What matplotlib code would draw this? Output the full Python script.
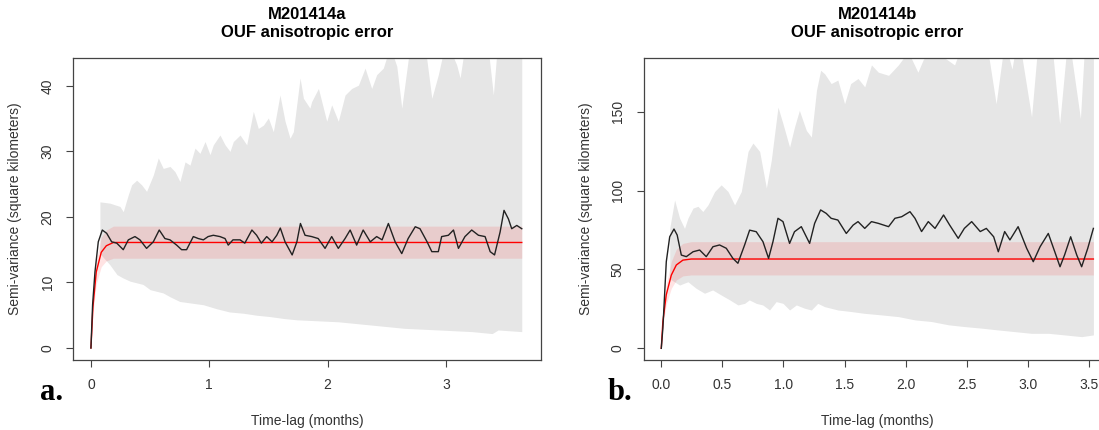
import numpy as np
import matplotlib.pyplot as plt

plt.rcParams["font.family"] = ["Liberation Sans", "DejaVu Sans"]

# ---------------- panel a : M201414a ----------------
a_black_t = [0.0, 0.014, 0.034, 0.062, 0.096, 0.133, 0.175, 0.218, 0.273, 0.316, 0.372, 0.414,
             0.47, 0.527, 0.577, 0.625, 0.668, 0.724, 0.766, 0.808, 0.865, 0.907, 0.95, 0.99,
             1.034, 1.09, 1.133, 1.16, 1.20, 1.26, 1.30, 1.36, 1.40, 1.44, 1.485, 1.53, 1.57,
             1.60, 1.64, 1.70, 1.74, 1.77, 1.809, 1.865, 1.92, 1.978, 2.034, 2.09, 2.147, 2.19,
             2.245, 2.30, 2.36, 2.414, 2.46, 2.513, 2.57, 2.626, 2.68, 2.74, 2.78, 2.84, 2.88,
             2.935, 2.963, 3.02, 3.063, 3.105, 3.16, 3.217, 3.274, 3.33, 3.373, 3.41, 3.457,
             3.49, 3.527, 3.555, 3.598, 3.64]
a_black_v = [0.0, 6.6, 11.6, 16.2, 18.0, 17.5, 16.2, 16.0, 15.0, 16.5, 17.0, 16.5,
             15.2, 16.2, 18.0, 16.7, 16.5, 15.7, 15.0, 15.0, 17.0, 16.7, 16.5, 17.0,
             17.2, 17.0, 16.7, 15.7, 16.5, 16.5, 16.0, 18.0, 17.2, 16.0, 17.0, 16.2, 17.2,
             18.3, 16.2, 14.2, 16.2, 19.0, 17.2, 17.0, 16.7, 15.2, 17.0, 15.2, 16.7, 18.0,
             15.7, 18.0, 16.2, 17.0, 16.5, 19.0, 16.2, 14.4, 16.7, 18.5, 18.2, 16.2, 14.7,
             14.7, 17.0, 17.2, 18.0, 15.2, 17.0, 18.0, 17.2, 17.0, 14.7, 14.2, 17.7,
             21.0, 19.7, 18.2, 18.7, 18.2]

a_model_t = [0.0, 0.017, 0.045, 0.087, 0.13, 0.19, 3.64]
a_model_v = [0.0, 6.3, 11.6, 14.6, 15.6, 16.1, 16.1]
a_model_lo = [0.0, 5.2, 9.8, 12.4, 13.3, 13.7, 13.7]
a_model_hi = [0.0, 7.4, 13.3, 16.9, 18.0, 18.6, 18.6]

a_upper_t = [0.076, 0.16, 0.245, 0.273, 0.316, 0.344, 0.386, 0.428, 0.47, 0.527, 0.569, 0.611,
             0.668, 0.71, 0.752, 0.795, 0.837, 0.879, 0.921, 0.964, 1.006, 1.034, 1.09, 1.133,
             1.175, 1.203, 1.26, 1.316, 1.372, 1.414, 1.457, 1.499, 1.541, 1.597, 1.64, 1.682,
             1.71, 1.767, 1.795, 1.85, 1.865, 1.922, 1.992, 2.034, 2.09, 2.147, 2.203, 2.26,
             2.316, 2.372, 2.414, 2.47, 2.527, 2.584, 2.626, 2.71, 2.795, 2.88, 2.935, 3.0,
             3.09, 3.119, 3.175, 3.33, 3.40, 3.46, 3.64]
a_upper_v = [22.3, 22.1, 21.6, 20.8, 23.4, 24.9, 25.6, 24.9, 23.9, 26.4, 29.0, 27.4,
             27.7, 26.9, 25.4, 28.4, 27.9, 30.5, 29.7, 31.5, 29.5, 31.0, 32.5, 31.0,
             30.0, 31.5, 32.5, 31.0, 36.1, 33.5, 34.0, 35.1, 33.0, 38.6, 34.6, 32.0,
             33.0, 41.2, 38.1, 36.6, 37.6, 39.6, 34.6, 37.1, 34.6, 38.6, 39.6, 40.1,
             42.7, 39.6, 41.7, 42.7, 46.0, 43.0, 36.6, 48.0, 50.0, 38.1, 41.7, 47.0,
             43.2, 41.2, 48.0, 50.0, 38.6, 52.0, 55.0]
a_lower_t = [0.076, 0.086, 0.16, 0.22, 0.27, 0.33, 0.44, 0.5, 0.61, 0.67, 0.75, 0.95, 1.06,
             1.17, 1.29, 1.40, 1.51, 1.63, 1.74, 2.09, 2.37, 2.65, 2.94, 3.22, 3.39, 3.44, 3.64]
a_lower_v = [14.6, 14.2, 12.7, 11.2, 10.7, 10.2, 9.7, 8.9, 8.4, 7.8, 7.1, 6.6, 6.0,
             5.5, 5.3, 5.0, 4.8, 4.5, 4.3, 4.0, 3.5, 3.0, 2.75, 2.5, 2.2, 2.75, 2.5]

# ---------------- panel b : M201414b ----------------
b_black_t = [0.0, 0.013, 0.041, 0.069, 0.104, 0.13, 0.164, 0.205, 0.26, 0.314, 0.368, 0.423,
             0.477, 0.532, 0.586, 0.627, 0.682, 0.723, 0.777, 0.832, 0.878, 0.914, 0.955,
             0.996, 1.05, 1.09, 1.146, 1.214, 1.255, 1.304, 1.35, 1.39, 1.445, 1.514, 1.57,
             1.61, 1.665, 1.72, 1.776, 1.86, 1.912, 1.967, 2.035, 2.076, 2.13, 2.185, 2.24,
             2.31, 2.36, 2.43, 2.48, 2.54, 2.61, 2.66, 2.72, 2.758, 2.81, 2.853, 2.92, 2.99,
             3.044, 3.10, 3.167, 3.22, 3.263, 3.30, 3.35, 3.40, 3.44, 3.49, 3.536]
b_black_v = [0.0, 12.7, 54.9, 70.7, 75.6, 71.8, 59.1, 58.1, 61.2, 62.3, 58.1, 64.4,
             65.5, 63.4, 57.0, 53.9, 65.5, 74.9, 73.9, 67.6, 57.0, 67.6, 82.4,
             80.3, 66.5, 73.9, 77.1, 66.5, 79.2, 87.7, 85.5, 82.4, 81.3, 72.8, 78.1,
             80.3, 76.0, 80.3, 79.2, 77.1, 82.4, 83.4, 86.6, 82.4, 74.0, 80.3, 76.0,
             84.5, 78.1, 69.7, 76.0, 80.3, 74.0, 76.0, 70.7, 61.2, 74.0, 68.7, 77.1, 63.4,
             54.9, 64.4, 72.8, 61.2, 51.7, 59.1, 70.7, 59.1, 51.7, 63.4, 76.0]

b_model_t = [0.0, 0.013, 0.041, 0.082, 0.123, 0.177, 0.245, 3.536]
b_model_v = [0.0, 17.0, 34.0, 46.4, 52.8, 55.9, 56.6, 56.6]
b_model_lo = [0.0, 14.0, 28.0, 38.0, 43.3, 45.9, 46.5, 46.5]
b_model_hi = [0.0, 20.3, 40.5, 55.0, 62.8, 66.5, 67.6, 67.6]

b_upper_t = [0.069, 0.109, 0.15, 0.19, 0.218, 0.26, 0.30, 0.34, 0.382, 0.437, 0.49, 0.546,
             0.60, 0.655, 0.71, 0.75, 0.805, 0.86, 0.90, 0.955, 0.996, 1.05, 1.09, 1.13,
             1.187, 1.228, 1.27, 1.304, 1.337, 1.39, 1.445, 1.5, 1.55, 1.61, 1.665, 1.72,
             1.776, 1.86, 1.94, 2.02, 2.10, 2.144, 2.21, 2.40, 2.43, 2.48, 2.65, 2.74, 2.81,
             2.87, 2.92, 3.03, 3.09, 3.20, 3.26, 3.33, 3.43, 3.47, 3.536]
b_upper_v = [76.0, 94.0, 82.5, 76.0, 82.5, 88.9, 90.0, 86.7, 90.9, 99.4, 103.6, 99.4,
             90.9, 99.4, 124.8, 130.1, 124.8, 101.6, 119.1, 152.9, 142.3, 127.5, 140.2, 150.8,
             138.1, 133.9, 163.5, 176.2, 174.0, 167.8, 170.0, 155.0, 167.8, 171.0, 165.7, 179.6,
             175.0, 173.0, 179.6, 188.0, 175.0, 183.0, 190.0, 179.6, 186.0, 195.0, 200.0, 155.0, 195.0,
             177.0, 200.0, 146.7, 200.0, 190.0, 142.3, 200.0, 145.6, 200.0, 200.0]
b_lower_t = [0.069, 0.15, 0.218, 0.286, 0.354, 0.42, 0.49, 0.56, 0.627, 0.682, 0.72, 0.777,
             0.83, 0.886, 0.94, 0.996, 1.05, 1.105, 1.173, 1.228, 1.28, 1.337, 1.445, 1.555,
             1.66, 1.80, 1.94, 2.077, 2.21, 2.35, 2.48, 2.62, 2.75, 2.89, 3.03, 3.17, 3.30,
             3.44, 3.536]
b_lower_v = [44.0, 40.1, 42.2, 38.0, 34.9, 37.0, 33.8, 30.7, 27.5, 28.5, 30.7, 28.5,
             27.5, 24.3, 29.6, 28.5, 24.3, 27.5, 25.4, 24.3, 28.5, 26.4, 24.3, 23.3,
             22.2, 21.2, 20.1, 18.0, 17.0, 14.9, 13.8, 12.8, 11.7, 10.6, 9.5, 9.5, 8.5,
             7.4, 8.5]

a_xticks = [0, 1, 2, 3]
a_xticklabels = ["0", "1", "2", "3"]
a_yticks = [0, 10, 20, 30, 40]
b_xticks = [0.0, 0.5, 1.0, 1.5, 2.0, 2.5, 3.0, 3.5]
b_xticklabels = ["0.0", "0.5", "1.0", "1.5", "2.0", "2.5", "3.0", "3.5"]
b_yticks = [0, 50, 100, 150]

GRAY = "#e6e6e6"
PINK = (1.0, 0.0, 0.0, 0.11)
AXC = "#444444"

fig = plt.figure(figsize=(10.99, 4.30), dpi=100)
ax_a = fig.add_axes([0.0667, 0.1628, 0.4253, 0.7016])
ax_b = fig.add_axes([0.5857, 0.1628, 0.4252, 0.7016])


def draw_panel(ax, ut, uv, lt, lv, mt, mv, mlo, mhi, bt, bv, xlim, ylim,
               xticks, xticklabels, yticks, title, tag, tag_x):
    # sampling-distribution envelope (gray) - upper and lower edges on own grids
    grid = np.union1d(ut, lt)
    ax.fill_between(grid, np.interp(grid, lt, lv), np.interp(grid, ut, uv),
                    color=GRAY, linewidth=0, zorder=1)
    # model CI (pink) and model curve (red)
    ax.fill_between(mt, mlo, mhi, color=PINK, linewidth=0, zorder=2)
    ax.plot(mt, mv, color="red", lw=1.0, zorder=3)
    # empirical semi-variance
    ax.plot(bt, bv, color="#222222", lw=1.0, zorder=4)

    ax.set_xlim(*xlim)
    ax.set_ylim(*ylim)
    ax.set_xticks(xticks)
    ax.set_xticklabels(xticklabels)
    ax.set_yticks(yticks)
    ax.tick_params(axis="both", direction="out", length=5, width=0.8, color=AXC,
                   labelcolor="#333333", labelsize=10)
    ax.tick_params(axis="x", pad=8)
    ax.tick_params(axis="y", pad=8.5, labelrotation=90)
    for lab in ax.get_yticklabels():
        lab.set_va("center")
    for sp in ax.spines.values():
        sp.set_color(AXC)
        sp.set_linewidth(0.9)

    ax.set_xlabel("Time-lag (months)", fontsize=10, color="#333333")
    ax.xaxis.set_label_coords(0.5, -0.202)
    ax.xaxis.label.set_va("center")
    ax.set_ylabel("Semi-variance (square kilometers)", fontsize=10, color="#333333")
    ax.yaxis.set_label_coords(-0.124, 0.5)
    ax.yaxis.label.set_va("center")

    ax.set_title(title, fontsize=12, fontweight="bold", pad=15.5, linespacing=1.2)
    fig.text(tag_x, 1 - 392 / 430, tag, fontsize=22, fontweight="bold",
             family=["Liberation Serif", "DejaVu Serif"], ha="left", va="center")


draw_panel(ax_a, a_upper_t, a_upper_v, a_lower_t, a_lower_v,
           a_model_t, a_model_v, a_model_lo, a_model_hi,
           a_black_t, a_black_v, (-0.149, 3.80), (-1.83, 44.2),
           a_xticks, a_xticklabels, a_yticks,
           "M201414a\nOUF anisotropic error", "a.", 40 / 1099)
draw_panel(ax_b, b_upper_t, b_upper_v, b_lower_t, b_lower_v,
           b_model_t, b_model_v, b_model_lo, b_model_hi,
           b_black_t, b_black_v, (-0.144, 3.68), (-7.4, 183.8),
           b_xticks, b_xticklabels, b_yticks,
           "M201414b\nOUF anisotropic error", "b.", 608 / 1099)

fig.savefig("out.png", dpi=100)
